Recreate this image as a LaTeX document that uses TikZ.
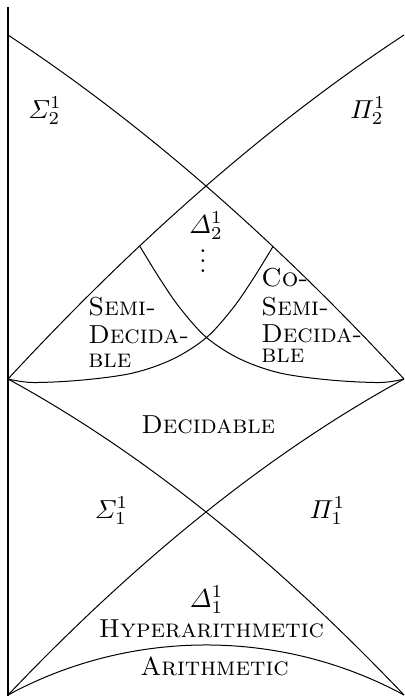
\RequirePackage{fix-cm}
\documentclass[tikz,border=0pt]{standalone}
\usepackage{amsmath}
\usepackage{graphicx}
\newcommand{\enl}[1]{\scalebox{1.3}{#1}}
\begin{document}
\begin{tikzpicture}[x=0.5pt,y=-0.5pt,
  thinl/.style={line width=0.5pt, line join=round},
  axisline/.style={line width=1.3pt},
  lbl/.style={inner sep=0pt, anchor=base, font=\fontsize{10}{12}\selectfont\scshape},
  lblw/.style={inner sep=0pt, anchor=base west, font=\fontsize{10}{12}\selectfont\scshape},
  mth/.style={inner sep=0pt, anchor=base, font=\fontsize{10}{12}\selectfont}]
\useasboundingbox (0,0) rectangle (404,696);
% corner points
\coordinate (AX1) at (8,7);
\coordinate (AX2) at (8,696);
\coordinate (TL) at (8,35);
\coordinate (TR) at (404,35);
\coordinate (ML) at (8,379);
\coordinate (MR) at (404,379);
\coordinate (BL) at (8,695);
\coordinate (BR) at (404,695);
\coordinate (SA) at (140,246.5);
\coordinate (SB) at (273,246.5);
% axis
\draw[axisline] (AX1) -- (AX2);
% upper cross
\draw[thinl] (TL) .. controls (140,121.7) and (272,236.3) .. (MR);
\draw[thinl] (TR) .. controls (272,121.7) and (140,236.3) .. (ML);
% lower cross
\draw[thinl] (ML) .. controls (140,451) and (272,556.3) .. (BR);
\draw[thinl] (MR) .. controls (272,451) and (140,556.3) .. (BL);
% bottom arc
\draw[thinl] (BL) .. controls (131,628.3) and (281,628.3) .. (BR);
% inner arcs
\draw[thinl] plot[smooth, tension=0.55] coordinates {(SA) (160,279) (180,308) (206.5,337.5) (240,359) (280,373) (330,380) (380,382.5) (MR)};
\draw[thinl] plot[smooth, tension=0.55] coordinates {(SB) (253,279) (233,308) (206.5,337.5) (173,359) (133,373) (83,380) (33,382.5) (ML)};
% labels
\node[mth] (s2) at (45,118) {\enl{$\varSigma^1_2$}};
\node[mth] (p2) at (368,118) {\enl{$\varPi^1_2$}};
\node[mth] (d2) at (206,233) {\enl{$\varDelta^1_2$}};
\node[mth, anchor=center] (dots) at (203,261) {\enl{\vbox{\baselineskip=3.85pt\lineskiplimit=0pt\hbox{.}\hbox{.}\hbox{.}}}};
\node[lblw] (sd1) at (88,315.3) {\enl{Semi-}};
\node[lblw] (sd2) at (88,343.3) {\enl{Decida-}};
\node[lblw] (sd3) at (88,367.7) {\enl{ble}};
\node[lblw] (cs1) at (261,286.7) {\enl{Co-}};
\node[lblw] (cs2) at (261,315.3) {\enl{Semi-}};
\node[lblw] (cs3) at (261,342.7) {\enl{Decida-}};
\node[lblw] (cs4) at (261,362.7) {\enl{ble}};
\node[lbl] (dec) at (208.3,433) {\enl{Decidable}};
\node[mth] (s1) at (111.5,518) {\enl{$\varSigma^1_1$}};
\node[mth] (p1) at (327.5,518) {\enl{$\varPi^1_1$}};
\node[mth] (d1) at (206.5,607) {\enl{$\varDelta^1_1$}};
\node[lbl] (hyp) at (211.5,637) {\enl{Hyperarithmetic}};
\node[lbl] (ari) at (214.5,675) {\enl{Arithmetic}};
\end{tikzpicture}
\end{document}
